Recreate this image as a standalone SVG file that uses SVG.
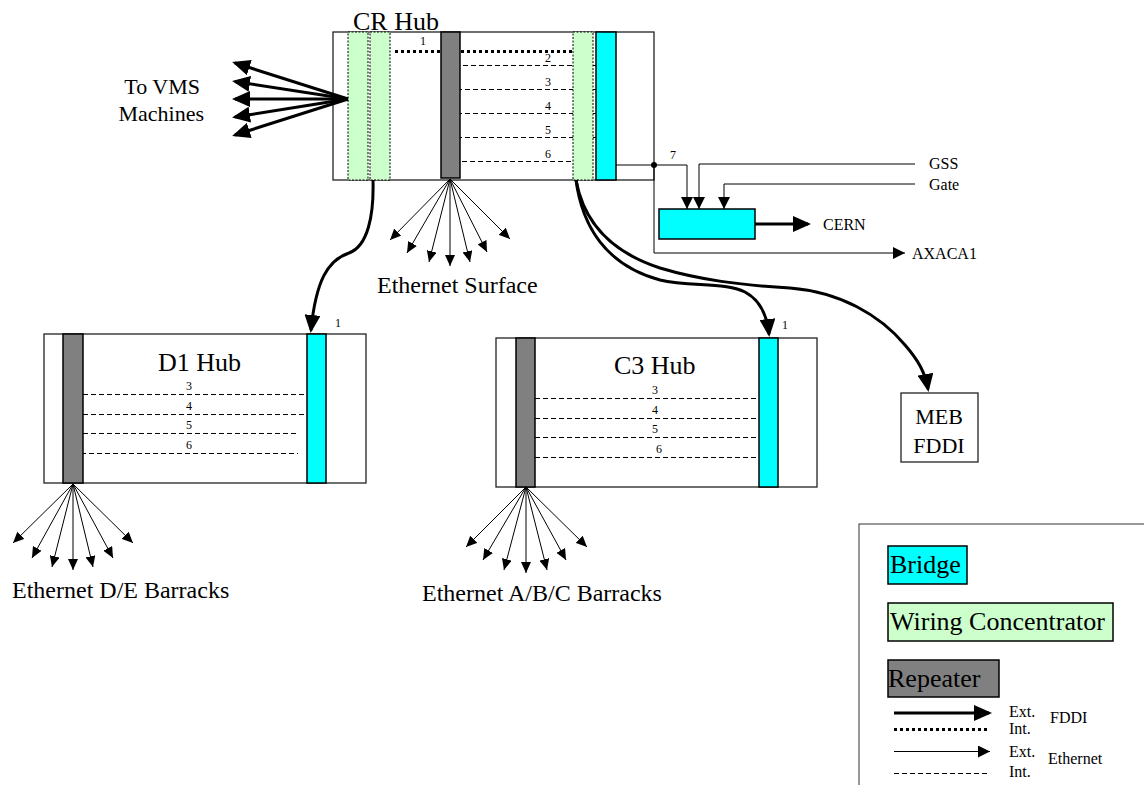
<svg xmlns="http://www.w3.org/2000/svg" width="1144" height="785" viewBox="0 0 1144 785">
  <style>
    text { font-family: "Liberation Serif", "Times New Roman", serif; fill: #000; }
    .hub { fill: #fff; stroke: #222; stroke-width: 1.3; }
    .bridge { fill: #00ffff; stroke: #000; stroke-width: 1.5; }
    .conc { fill: #ccffcc; stroke: #000; stroke-width: 1; stroke-dasharray: 2 1.5; }
    .rep { fill: #808080; stroke: #000; stroke-width: 1.5; }
    .eth-int { stroke: #000; stroke-width: 1.2; stroke-dasharray: 5 3; fill: none; }
    .fddi-int { stroke: #000; stroke-width: 3; stroke-dasharray: 3 3; fill: none; }
    .eth { stroke: #000; stroke-width: 1; fill: none; }
    .fddi { stroke: #000; stroke-width: 3; fill: none; }
    .lbl { font-size: 12px; text-anchor: middle; }
    .title { font-size: 26px; }
    .big { font-size: 24px; }
    .small { font-size: 16px; }
  </style>
  <defs>
    <marker id="ah-big" viewBox="0 0 18 16" markerWidth="18" markerHeight="16" refX="15" refY="8" orient="auto" markerUnits="userSpaceOnUse">
      <path d="M0,0 L18,8 L0,16 z" fill="#000"/>
    </marker>
    <marker id="ah-small" viewBox="0 0 11 10" markerWidth="11" markerHeight="10" refX="11" refY="5" orient="auto" markerUnits="userSpaceOnUse">
      <path d="M0,0 L11,5 L0,10 z" fill="#000"/>
    </marker>
    <marker id="ah-mid" viewBox="0 0 12 12" markerWidth="12" markerHeight="12" refX="12" refY="6" orient="auto" markerUnits="userSpaceOnUse">
      <path d="M0,0 L12,6 L0,12 z" fill="#000"/>
    </marker>
  </defs>

  <!-- CR hub -->
  <g id="cr-hub">
    <rect class="hub" x="333" y="32" width="321" height="148"/>
    <rect class="conc" x="348" y="32" width="20" height="148"/>
    <rect class="conc" x="370" y="32" width="20" height="148"/>
    <line class="fddi-int" x1="395" y1="51.5" x2="573" y2="51.5"/>
    <line class="eth-int" x1="463" y1="65.5" x2="604" y2="65.5"/>
    <line class="eth-int" x1="457" y1="89.5" x2="597" y2="89.5"/>
    <line class="eth-int" x1="457" y1="113.5" x2="597" y2="113.5"/>
    <line class="eth-int" x1="457" y1="137.5" x2="597" y2="137.5"/>
    <line class="eth-int" x1="454" y1="161.5" x2="593" y2="161.5"/>
    <rect class="rep" x="441" y="32" width="19" height="146"/>
    <rect class="conc" x="573" y="32" width="20" height="148"/>
    <rect class="bridge" x="596" y="32" width="20" height="148"/>
    <text class="title" x="353" y="30">CR Hub</text>
    <text class="lbl" x="423" y="45">1</text>
    <text class="lbl" x="548" y="62">2</text>
    <text class="lbl" x="548" y="86">3</text>
    <text class="lbl" x="548" y="110">4</text>
    <text class="lbl" x="548" y="134">5</text>
    <text class="lbl" x="548" y="158">6</text>
  </g>

  <!-- D1 hub -->
  <g id="d1-hub">
    <rect class="hub" x="44" y="334" width="322" height="149"/>
    <line class="eth-int" x1="83" y1="394.5" x2="307" y2="394.5"/>
    <line class="eth-int" x1="83" y1="414.5" x2="307" y2="414.5"/>
    <line class="eth-int" x1="83" y1="433.5" x2="298" y2="433.5"/>
    <line class="eth-int" x1="73" y1="453.5" x2="298" y2="453.5" stroke-width="0.9"/>
    <rect class="rep" x="63" y="334" width="20" height="149"/>
    <rect class="bridge" x="307" y="334" width="19" height="149"/>
    <text class="title" x="158" y="371">D1 Hub</text>
    <text class="lbl" x="189" y="390">3</text>
    <text class="lbl" x="189" y="410">4</text>
    <text class="lbl" x="189" y="429">5</text>
    <text class="lbl" x="189" y="449">6</text>
    <text class="lbl" x="338" y="327">1</text>
  </g>

  <!-- C3 hub -->
  <g id="c3-hub">
    <rect class="hub" x="496" y="338" width="321" height="149"/>
    <line class="eth-int" x1="535" y1="398.5" x2="759" y2="398.5"/>
    <line class="eth-int" x1="535" y1="418.5" x2="759" y2="418.5"/>
    <line class="eth-int" x1="535" y1="437.5" x2="759" y2="437.5"/>
    <line class="eth-int" x1="535" y1="457.5" x2="759" y2="457.5"/>
    <rect class="rep" x="516" y="338" width="19" height="149"/>
    <rect class="bridge" x="759" y="338" width="19" height="149"/>
    <text class="title" x="614" y="374">C3 Hub</text>
    <text class="lbl" x="655" y="394">3</text>
    <text class="lbl" x="655" y="414">4</text>
    <text class="lbl" x="655" y="433">5</text>
    <text class="lbl" x="659" y="453">6</text>
    <text class="lbl" x="785" y="329">1</text>
  </g>

  <!-- External bridge towards CERN -->
  <g id="cern-bridge">
    <rect class="bridge" x="659" y="209" width="96" height="30"/>
  </g>

  <!-- MEB FDDI -->
  <g id="meb-fddi">
    <rect class="hub" x="901" y="393" width="77" height="69"/>
    <text x="939" y="424" font-size="22" text-anchor="middle">MEB</text>
    <text x="939" y="453" font-size="22" text-anchor="middle">FDDI</text>
  </g>

  <!-- Connectors -->
  <g id="connectors">
    <!-- to VMS machines -->
    <line class="fddi" x1="348" y1="99" x2="235" y2="63" marker-end="url(#ah-big)"/>
    <line class="fddi" x1="348" y1="99" x2="235" y2="81.5" marker-end="url(#ah-big)"/>
    <line class="fddi" x1="348" y1="99" x2="235" y2="99" stroke-width="4" marker-end="url(#ah-big)"/>
    <line class="fddi" x1="348" y1="99" x2="235" y2="117" marker-end="url(#ah-big)"/>
    <line class="fddi" x1="348" y1="99" x2="235" y2="135" marker-end="url(#ah-big)"/>

    <!-- FDDI links between hubs -->
    <path class="fddi" d="M373,180 C374,215 368,246 349,253 C328,260 316,280 311,330" marker-end="url(#ah-big)"/>
    <path class="fddi" d="M576,180 C582,225 605,265 660,280 C690,287 725,282 745,292 C760,300 767,315 769,334" marker-end="url(#ah-big)"/>
    <path class="fddi" d="M576,180 C585,230 620,255 660,268 C700,280 740,285 790,288 C840,292 880,315 905,345 C918,360 925,372 928,389" marker-end="url(#ah-big)"/>

    <!-- bridge port 7 and external lines -->
    <line class="eth" x1="616" y1="165" x2="654" y2="165"/>
    <circle cx="654" cy="165" r="3" fill="#000"/>
    <path class="eth" d="M654,165 H687 V209" marker-end="url(#ah-mid)"/>
    <path class="eth" d="M915,164 H699 V209" marker-end="url(#ah-mid)"/>
    <path class="eth" d="M915,184 H724 V209" marker-end="url(#ah-mid)"/>
    <path class="eth" d="M654,165 V253 H905" marker-end="url(#ah-mid)"/>
    <line class="fddi" x1="755" y1="224" x2="808" y2="224" stroke-width="4" marker-end="url(#ah-big)"/>

    <!-- Ethernet Surface -->
    <line class="eth" x1="450" y1="179" x2="390" y2="240" marker-end="url(#ah-small)"/>
    <line class="eth" x1="450" y1="179" x2="407" y2="253" marker-end="url(#ah-small)"/>
    <line class="eth" x1="450" y1="179" x2="429" y2="262" marker-end="url(#ah-small)"/>
    <line class="eth" x1="450" y1="179" x2="450" y2="266" marker-end="url(#ah-small)"/>
    <line class="eth" x1="450" y1="179" x2="470" y2="262" marker-end="url(#ah-small)"/>
    <line class="eth" x1="450" y1="179" x2="487" y2="252" marker-end="url(#ah-small)"/>
    <line class="eth" x1="450" y1="179" x2="510" y2="239" marker-end="url(#ah-small)"/>

    <!-- Ethernet D/E barracks -->
    <line class="eth" x1="73" y1="484" x2="13" y2="543" marker-end="url(#ah-small)"/>
    <line class="eth" x1="73" y1="484" x2="32" y2="558" marker-end="url(#ah-small)"/>
    <line class="eth" x1="73" y1="484" x2="52" y2="567" marker-end="url(#ah-small)"/>
    <line class="eth" x1="73" y1="484" x2="73" y2="570" marker-end="url(#ah-small)"/>
    <line class="eth" x1="73" y1="484" x2="93" y2="567" marker-end="url(#ah-small)"/>
    <line class="eth" x1="73" y1="484" x2="113" y2="558" marker-end="url(#ah-small)"/>
    <line class="eth" x1="73" y1="484" x2="133" y2="543" marker-end="url(#ah-small)"/>

    <!-- Ethernet A/B/C barracks -->
    <line class="eth" x1="526" y1="487" x2="466" y2="547" marker-end="url(#ah-small)"/>
    <line class="eth" x1="526" y1="487" x2="483" y2="560" marker-end="url(#ah-small)"/>
    <line class="eth" x1="526" y1="487" x2="504" y2="570" marker-end="url(#ah-small)"/>
    <line class="eth" x1="526" y1="487" x2="526" y2="573" marker-end="url(#ah-small)"/>
    <line class="eth" x1="526" y1="487" x2="547" y2="570" marker-end="url(#ah-small)"/>
    <line class="eth" x1="526" y1="487" x2="566" y2="560" marker-end="url(#ah-small)"/>
    <line class="eth" x1="526" y1="487" x2="587" y2="547" marker-end="url(#ah-small)"/>
  </g>

  <!-- Free labels -->
  <g id="labels">
    <text x="200" y="94" font-size="22" text-anchor="end">To VMS</text>
    <text x="204" y="121" font-size="22" text-anchor="end">Machines</text>
    <text class="big" x="377" y="293">Ethernet Surface</text>
    <text class="big" x="12" y="598">Ethernet D/E Barracks</text>
    <text class="big" x="422" y="601">Ethernet A/B/C Barracks</text>
    <text class="lbl" x="673" y="159">7</text>
    <text class="small" x="929" y="169">GSS</text>
    <text class="small" x="929" y="190">Gate</text>
    <text class="small" x="823" y="230">CERN</text>
    <text class="small" x="912" y="259">AXACA1</text>
  </g>

  <!-- Legend -->
  <g id="legend">
    <rect x="859" y="524" width="300" height="300" fill="#fff" stroke="#333" stroke-width="1"/>
    <rect class="bridge" x="888" y="546" width="79" height="38"/>
    <text class="title" x="890" y="573">Bridge</text>
    <rect class="bridge" x="888" y="603" width="225" height="38" style="fill:#ccffcc"/>
    <text class="title" x="890" y="630">Wiring Concentrator</text>
    <rect class="rep" x="888" y="660" width="111" height="37"/>
    <text class="title" x="888" y="687">Repeater</text>
    <line class="fddi" x1="894" y1="713" x2="989" y2="713" stroke-width="4" marker-end="url(#ah-big)"/>
    <line class="fddi-int" x1="894" y1="729.5" x2="990" y2="729.5"/>
    <line class="eth" x1="894" y1="751.5" x2="990" y2="751.5" marker-end="url(#ah-mid)"/>
    <line class="eth-int" x1="894" y1="773.5" x2="990" y2="773.5"/>
    <text class="small" x="1009" y="717">Ext.</text>
    <text class="small" x="1009" y="734">Int.</text>
    <text class="small" x="1050" y="723">FDDI</text>
    <text class="small" x="1009" y="757">Ext.</text>
    <text class="small" x="1009" y="777">Int.</text>
    <text class="small" x="1048" y="764">Ethernet</text>
  </g>
</svg>
